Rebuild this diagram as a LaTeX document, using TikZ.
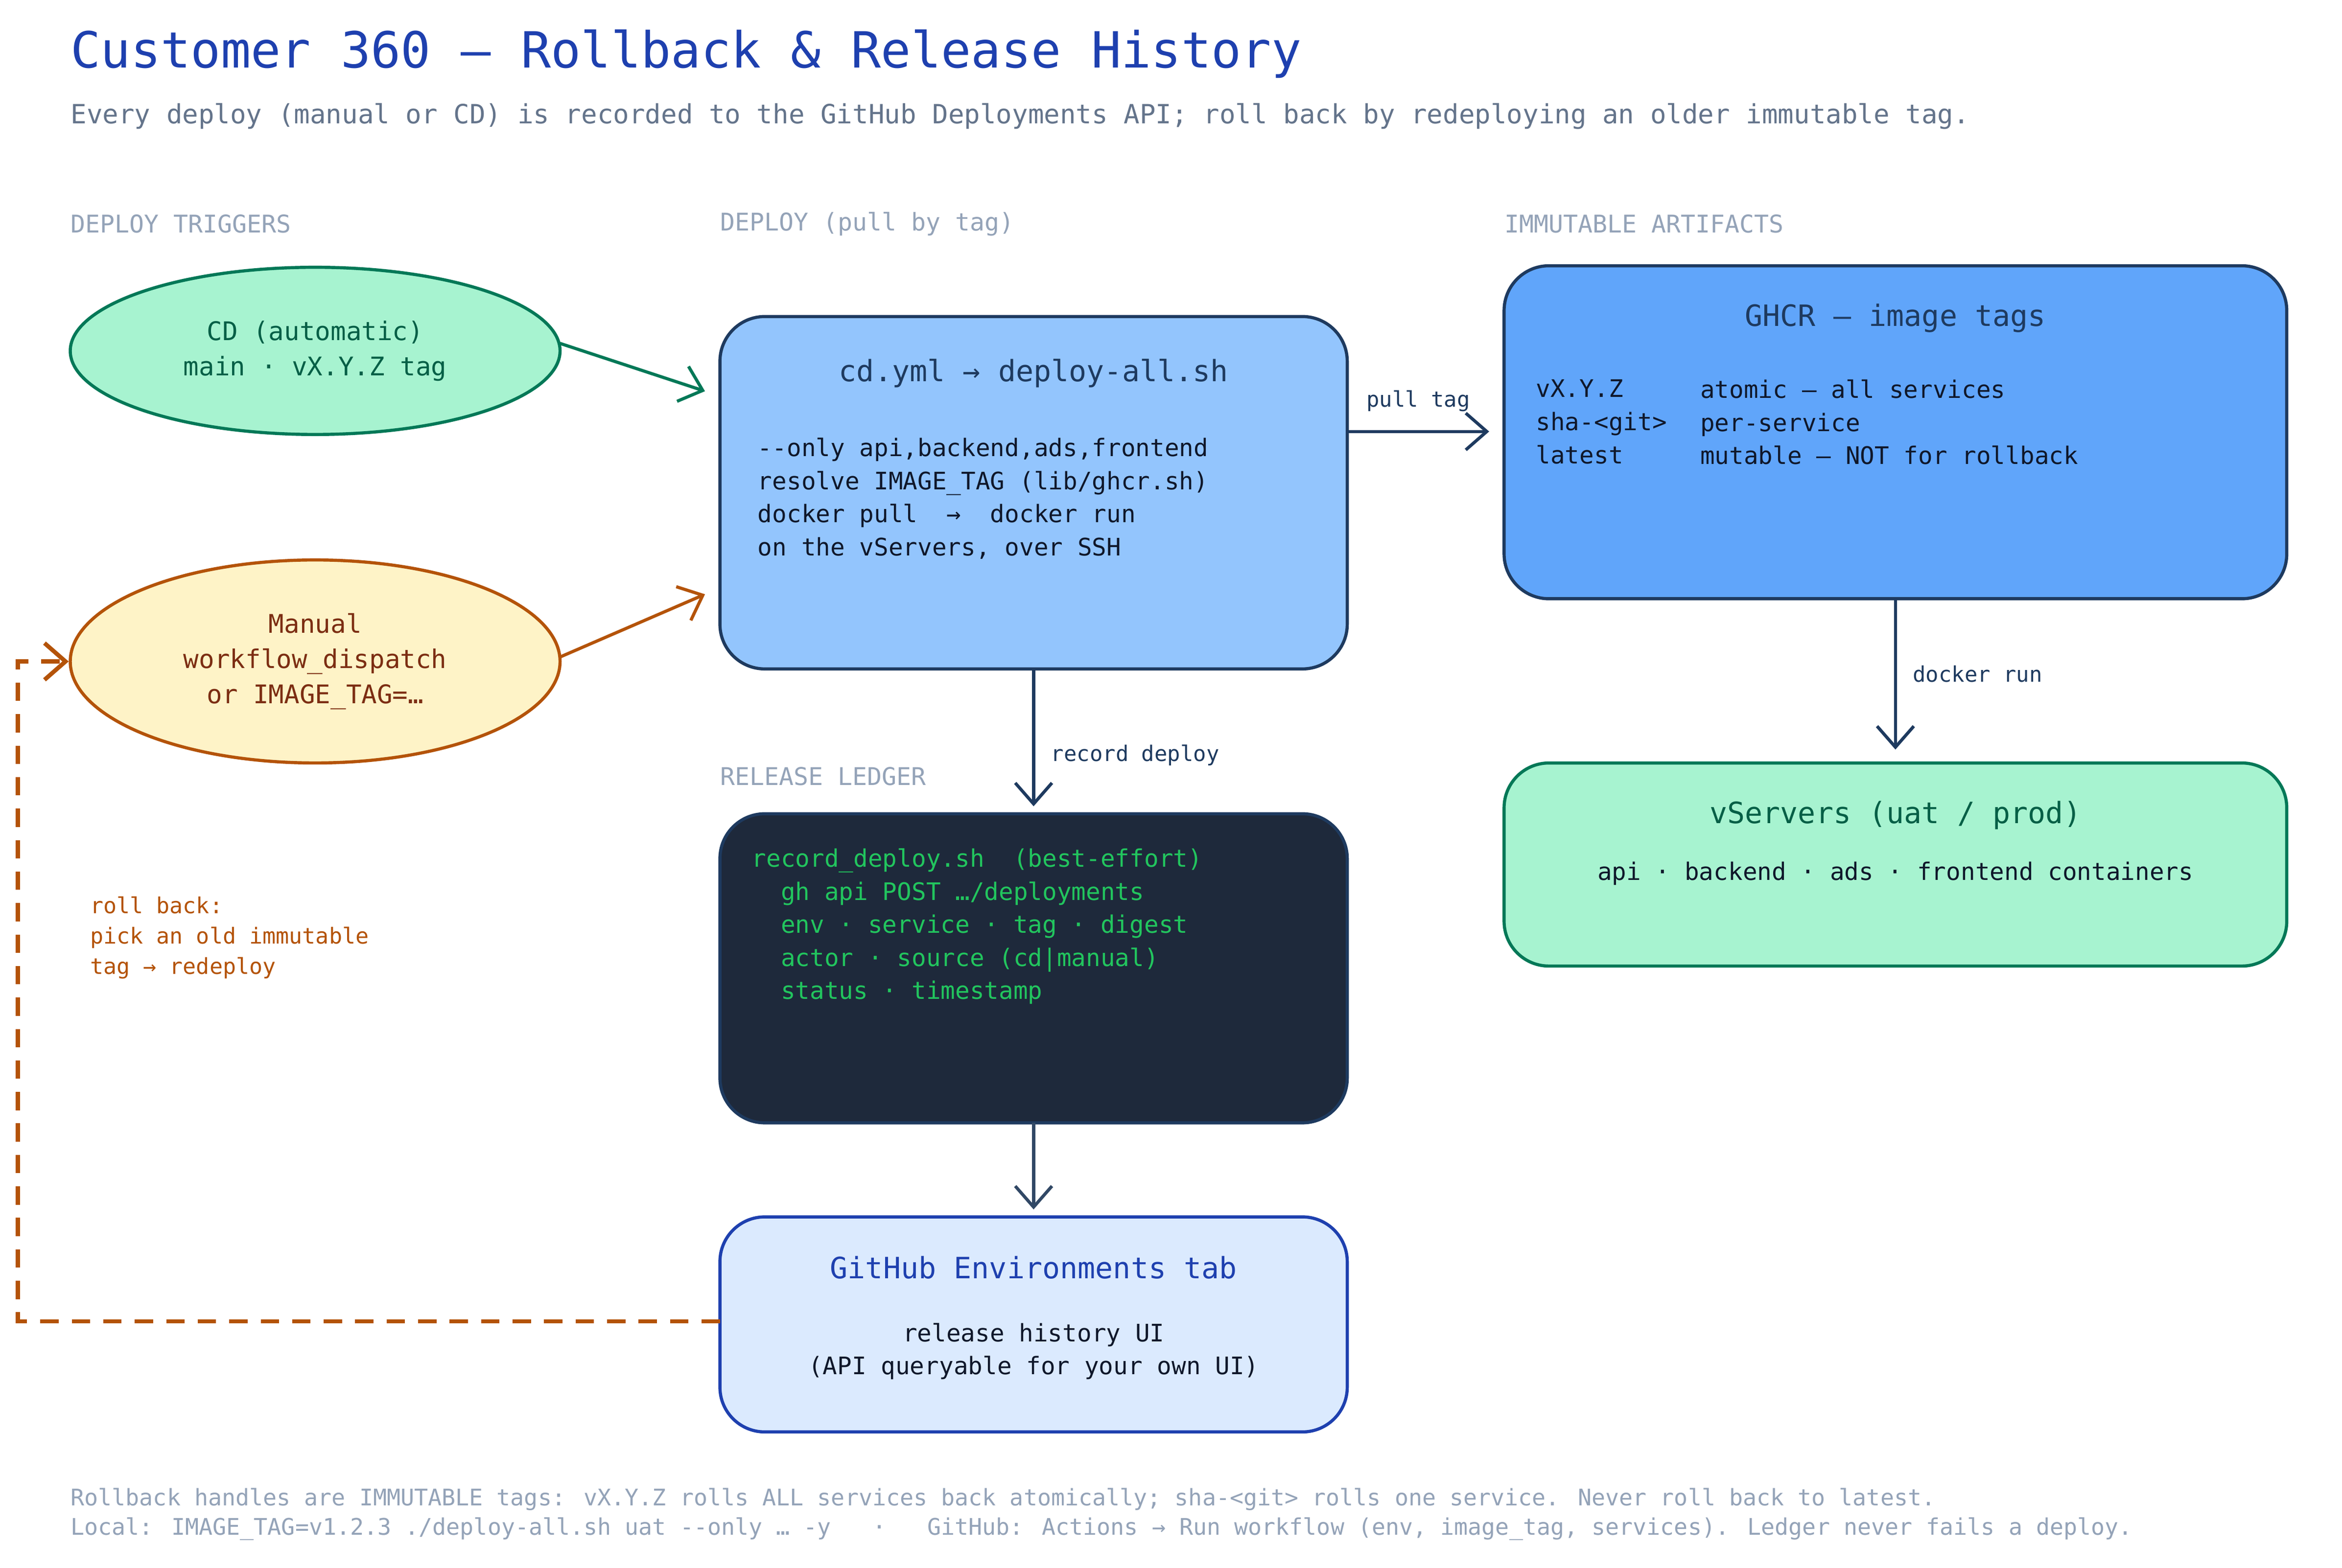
\documentclass[tikz,border=0pt]{standalone}
\usepackage{fontspec}
\setmainfont{DejaVu Sans Mono}
\usepackage{xcolor}
\usetikzlibrary{arrows.meta,shapes.geometric,positioning}
\definecolor{titleblue}{HTML}{1E40AF}
\definecolor{subgray}{HTML}{64748B}
\definecolor{secgray}{HTML}{94A3B8}
\definecolor{navy}{HTML}{1E3A5F}
\definecolor{mintfill}{HTML}{A7F3D0}
\definecolor{mintline}{HTML}{047857}
\definecolor{minttext}{HTML}{065F46}
\definecolor{creamfill}{HTML}{FEF3C7}
\definecolor{rust}{HTML}{B45309}
\definecolor{rusttext}{HTML}{7C2D12}
\definecolor{skyfill}{HTML}{93C5FD}
\definecolor{bluefill}{HTML}{60A5FA}
\definecolor{inkfill}{HTML}{1E293B}
\definecolor{codegreen}{HTML}{22C55E}
\definecolor{palefill}{HTML}{DBEAFE}
\definecolor{darktext}{HTML}{0F172A}
\tikzset{
  section/.style={anchor=west,inner sep=0pt,text=secgray,font=\fontsize{9.3}{11}\selectfont},
  card/.style={draw=navy,line width=1.2pt,rounded corners=0.6cm},
  body/.style={anchor=north west,align=left,inner sep=0pt,font=\fontsize{9.2}{12.6}\selectfont},
  head/.style={inner sep=0pt,font=\fontsize{11.2}{13}\selectfont},
  flow/.style={draw=navy,line width=1.2pt,-{Straight Barb[length=8pt,width=14pt]}},
  tag/.style={font=\fontsize{8.2}{10}\selectfont,text=navy,inner sep=0pt},
  foot/.style={anchor=west,inner sep=0pt,text=secgray,font=\fontsize{8.7}{11}\selectfont}
}
\begin{document}
\begin{tikzpicture}[x=0.02cm,y=-0.02cm]
\useasboundingbox (0,0) rectangle (1568,1050);
% title
\node[anchor=west,inner sep=0pt,text=titleblue,font=\fontsize{19}{22}\selectfont] (title) at (47,36) {Customer 360 — Rollback \& Release History};
\node[anchor=west,inner sep=0pt,text=subgray,font=\fontsize{10.1}{12}\selectfont] (sub) at (47,78) {Every deploy (manual or CD) is recorded to the GitHub Deployments API; roll back by redeploying an older immutable tag.};
% sections
\node[section] (s1) at (47,150) {DEPLOY TRIGGERS};
\node[section] (s2) at (482,150) {DEPLOY (pull by tag)};
\node[section] (s3) at (1007,150) {IMMUTABLE ARTIFACTS};
\node[section] (s4) at (482,520) {RELEASE LEDGER};
% triggers
\node[ellipse,draw=mintline,fill=mintfill,line width=1.2pt,
      minimum width=6.56cm,minimum height=2.24cm,text=minttext,align=center,
      font=\fontsize{9.8}{13.5}\selectfont] (cd) at (211,235) {CD (automatic)\\main · vX.Y.Z tag};
\node[ellipse,draw=rust,fill=creamfill,line width=1.2pt,
      minimum width=6.56cm,minimum height=2.72cm,text=rusttext,align=center,
      font=\fontsize{9.8}{13.5}\selectfont] (manual) at (211,443) {Manual\\workflow\_dispatch\\or IMAGE\_TAG=…};
% deploy
\draw[card,fill=skyfill] (482,212) rectangle (902,448);
\node[head,text=navy] (deploy) at (692,250) {cd.yml → deploy-all.sh};
\node[body,text=darktext] (deploybody) at (507,293) {-{}-only api,backend,ads,frontend\\resolve IMAGE\_TAG (lib/ghcr.sh)\\docker pull \ → \ docker run\\on the vServers, over SSH};
\coordinate (deployW1) at (472,262);
\coordinate (deployW2) at (472,398);
\coordinate (deployE) at (902,289);
\coordinate (deployS) at (692,448);
% ghcr
\draw[card,fill=bluefill] (1007,178) rectangle (1531,401);
\node[head,text=navy] (ghcr) at (1269,213) {GHCR — image tags};
\node[body,text=darktext] (ghcrA) at (1028,254) {vX.Y.Z\\sha-<git>\\latest};
\node[body,text=darktext] (ghcrB) at (1138,254) {atomic — all services\\per-service\\mutable — NOT for rollback};
\coordinate (ghcrW) at (997,289);
\coordinate (ghcrS) at (1269,401);
% vservers
\draw[card,draw=mintline,fill=mintfill] (1007,511) rectangle (1531,647);
\node[head,text=minttext] (vs) at (1269,546) {vServers (uat / prod)};
\node[inner sep=0pt,text=darktext,font=\fontsize{9.2}{12}\selectfont] (vsbody) at (1269,585) {api · backend · ads · frontend containers};
\coordinate (vsN) at (1269,502);
% ledger
\draw[card,fill=inkfill] (482,545) rectangle (902,752);
\node[body,text=codegreen] (ledger) at (503,568) {record\_deploy.sh \ (best-effort)\\\ \ gh api POST …/deployments\\\ \ env · service · tag · digest\\\ \ actor · source (cd|manual)\\\ \ status · timestamp};
\coordinate (ledgerN) at (692,540);
\coordinate (ledgerS) at (692,752);
% github
\draw[card,draw=titleblue,fill=palefill] (482,815) rectangle (902,959);
\node[head,text=titleblue] (gh) at (692,849) {GitHub Environments tab};
\node[inner sep=0pt,align=center,text=darktext,font=\fontsize{9.2}{12.6}\selectfont] (ghbody) at (692,905) {release history UI\\(API queryable for your own UI)};
\coordinate (ghN) at (692,810);
\coordinate (ghW) at (482,885);
% connectors
\draw[flow,draw=mintline] (375,230) -- (deployW1);
\draw[flow,draw=rust] (375,440) -- (deployW2);
\draw[flow] (deployE) -- node[tag,above=7pt] {pull tag} (ghcrW);
\draw[flow] (deployS) -- (ledgerN) node[tag,anchor=west,pos=0.63,right=6pt] {record deploy};
\draw[flow,draw=navy!80!gray] (ledgerS) -- (ghN);
\draw[flow] (ghcrS) -- node[tag,right=6pt] {docker run} (vsN);
\coordinate (back1) at (12,885);
\coordinate (back2) at (12,443);
\draw[flow,draw=rust,line width=1.6pt,dash pattern=on 7pt off 5pt] (ghW) -- (back1) -- (back2) -- (manual.west);
\node[anchor=north west,align=left,inner sep=0pt,text=rust,font=\fontsize{8.4}{11.6}\selectfont] (rb) at (60,600) {roll back:\\pick an old immutable\\tag → redeploy};
% footer
\node[foot] (f1) at (47,1004) {Rollback handles are IMMUTABLE tags: vX.Y.Z rolls ALL services back atomically; sha-<git> rolls one service. Never roll back to latest.};
\node[foot] (f2) at (47,1024) {Local: IMAGE\_TAG=v1.2.3 ./deploy-all.sh uat -{}-only … -y \ \ · \ \ GitHub: Actions → Run workflow (env, image\_tag, services). Ledger never fails a deploy.};
\end{tikzpicture}
\end{document}
